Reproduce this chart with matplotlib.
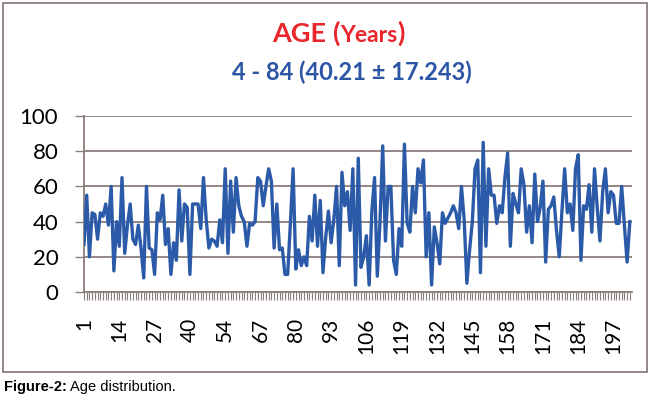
import matplotlib
matplotlib.use("Agg")
import matplotlib.pyplot as plt
from matplotlib.patches import Rectangle
import numpy as np

ages = [27, 55, 20, 45, 44, 30, 45, 43, 50, 38, 60, 12, 40, 26, 65, 22, 38, 50, 30, 27,
        38, 25, 8, 60, 25, 24, 10, 45, 41, 55, 27, 36, 10, 28, 18, 58, 29, 50, 48, 10,
        50, 50, 50, 36, 65, 41, 25, 30, 29, 26, 41, 28, 70, 22, 63, 34, 65, 49, 43, 40,
        26, 39, 38, 40, 65, 63, 49, 60, 70, 63, 25, 50, 24, 25, 10, 10, 39, 70, 13, 24,
        15, 20, 15, 43, 29, 55, 26, 52, 11, 31, 46, 28, 41, 60, 15, 68, 49, 57, 35, 70,
        4, 76, 14, 20, 32, 4, 46, 65, 9, 40, 83, 29, 60, 60, 18, 10, 36, 26, 84, 39,
        34, 60, 45, 70, 62, 75, 20, 45, 4, 37, 28, 16, 45, 39, 42, 45, 49, 45, 36, 60,
        41, 5, 24, 40, 70, 75, 11, 85, 26, 70, 55, 55, 39, 49, 45, 65, 79, 26, 56, 50,
        45, 70, 61, 34, 49, 28, 67, 40, 48, 63, 17, 47, 49, 54, 35, 20, 46, 70, 45, 50,
        35, 70, 78, 18, 49, 47, 61, 34, 70, 48, 29, 57, 70, 45, 57, 55, 39, 39, 60, 38,
        17, 40]
tick_labels = ["1", "14", "27", "40", "54", "67", "80", "93", "106", "119",
               "132", "145", "158", "171", "184", "197"]
y_ticks = [0, 20, 40, 60, 80, 100]

W, H = 650, 404
fig = plt.figure(figsize=(W / 100, H / 100), dpi=100)
fig.patch.set_facecolor("white")

grey = "#8a7e7b"
line_blue = "#2b5ba8"
title_blue = "#2c56a5"
red = "#e8262b"
font = ["Lato", "DejaVu Sans"]

# outer chart border
fig.patches.append(Rectangle((3 / W, (H - 372) / H), 644 / W, 369 / H,
                             transform=fig.transFigure, fill=False,
                             edgecolor=grey, linewidth=1.3))

ax = fig.add_axes([84 / W, (H - 292) / H, (632 - 84) / W, (292 - 116) / H])
x = np.arange(len(ages))
ax.plot(x, ages, color=line_blue, linewidth=2.4, solid_joinstyle="round", zorder=3)

ax.set_ylim(0, 100)
ax.set_xlim(0, 201.8)
ax.set_yticks(y_ticks)
ax.set_yticklabels([str(v) for v in y_ticks], fontfamily=font, fontsize=16)
ax.set_xticks(np.arange(len(tick_labels)) * 13)
ax.set_xticklabels(tick_labels, rotation=90, fontfamily=font, fontsize=15)
ax.set_xticks(x, minor=True)
ax.tick_params(axis="y", length=6.5, width=1.0, color=grey, pad=12, direction="out")
ax.tick_params(axis="x", which="both", length=5.5, width=0.8, color=grey, pad=13,
               direction="out")
ax.yaxis.grid(True, color=grey, linewidth=1.3)
ax.set_axisbelow(True)
for s in ["top", "right"]:
    ax.spines[s].set_visible(False)
for s in ["left", "bottom"]:
    ax.spines[s].set_color(grey)
    ax.spines[s].set_linewidth(1.3)


def seq_text(parts, cx, baseline_px):
    """Place pieces of text on one baseline, centred on cx (pixels)."""
    renderer = fig.canvas.get_renderer()
    texts = []
    for s, size, col in parts:
        t = fig.text(0, (H - baseline_px) / H, s, fontsize=size, color=col,
                     fontweight="bold", fontfamily=font, ha="left", va="baseline")
        texts.append(t)
    widths = [t.get_window_extent(renderer).width for t in texts]
    total = sum(widths)
    xpos = cx - total / 2
    for t, w in zip(texts, widths):
        t.set_x(xpos / W)
        xpos += w


seq_text([("AGE ", 19.5, red), ("(", 19.5, red), ("Years", 16.5, red), (")", 19.5, red)],
         338.5, 42)
seq_text([("4 - 84 (40.21 ± 17.243)", 17, title_blue)], 352, 80)

cap_font = ["Liberation Sans", "DejaVu Sans"]
fig.text(4 / W, (H - 391.5) / H, "Figure-2:", fontsize=10.5, fontweight="bold",
         fontfamily=cap_font, ha="left", va="baseline")
renderer = fig.canvas.get_renderer()
t0 = fig.texts[-1]
w0 = t0.get_window_extent(renderer).width
fig.text((4 + w0 + 3) / W, (H - 391.5) / H, "Age distribution.", fontsize=10.5,
         fontfamily=cap_font, ha="left", va="baseline")

fig.savefig("out.png", dpi=100)
